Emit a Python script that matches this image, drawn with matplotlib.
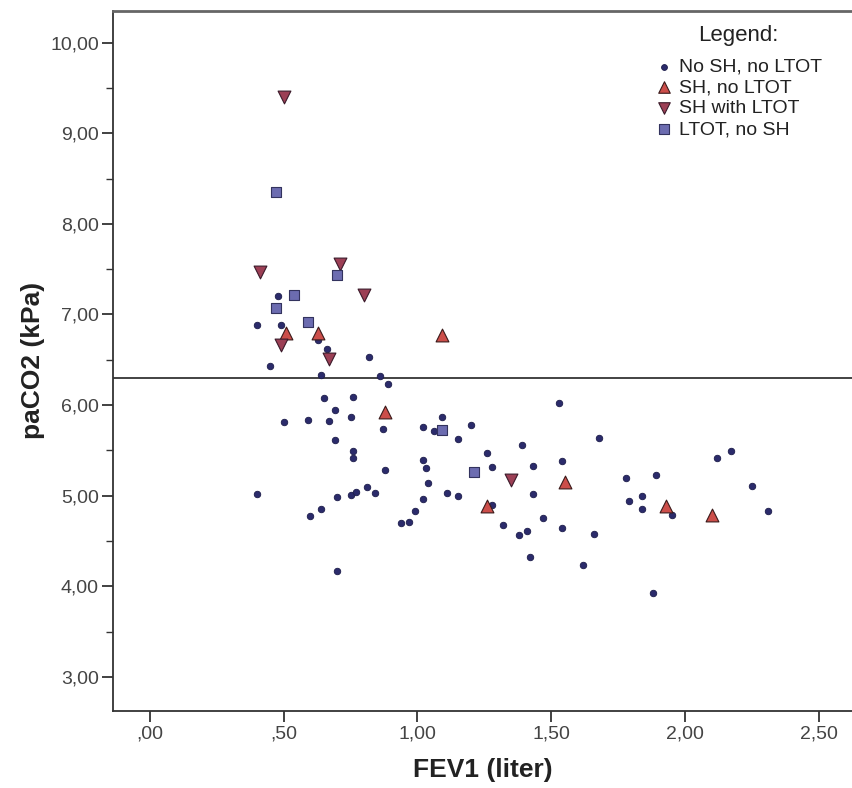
import matplotlib.pyplot as plt
from matplotlib.ticker import FuncFormatter, MultipleLocator

# No SH, no LTOT
fev_none = [0.48, 0.40, 0.49, 0.63, 0.66, 0.82, 0.45, 0.64, 0.86, 0.89,
            0.65, 0.76, 0.69, 0.50, 0.59, 0.67, 0.75, 0.87, 1.09, 1.02,
            1.06, 1.20, 1.15, 0.69, 0.76, 0.76, 1.26, 1.02, 1.03, 1.28,
            0.88, 1.04, 0.40, 0.70, 0.75, 0.77, 0.81, 0.84, 1.02, 1.11,
            1.15, 0.64, 0.60, 0.99, 0.94, 0.97, 0.70, 1.53, 1.68, 1.39,
            1.43, 1.54, 2.12, 2.17, 2.25, 2.31, 1.78, 1.89, 1.79, 1.84,
            1.84, 1.95, 1.28, 1.43, 1.32, 1.38, 1.41, 1.47, 1.54, 1.66,
            1.42, 1.62, 1.88]
pco2_none = [7.20, 6.88, 6.88, 6.72, 6.62, 6.53, 6.43, 6.33, 6.32, 6.23,
             6.08, 6.09, 5.95, 5.81, 5.84, 5.82, 5.87, 5.73, 5.87, 5.76,
             5.71, 5.78, 5.63, 5.61, 5.49, 5.41, 5.47, 5.39, 5.30, 5.32,
             5.28, 5.14, 5.02, 4.99, 5.01, 5.04, 5.10, 5.03, 4.96, 5.03,
             5.00, 4.85, 4.78, 4.83, 4.70, 4.71, 4.17, 6.02, 5.64, 5.56,
             5.33, 5.38, 5.42, 5.49, 5.11, 4.83, 5.19, 5.23, 4.94, 5.00,
             4.85, 4.79, 4.90, 5.02, 4.68, 4.57, 4.61, 4.75, 4.64, 4.58,
             4.32, 4.23, 3.93]

# SH, no LTOT
fev_sh = [0.51, 0.63, 1.09, 0.88, 1.26, 1.55, 1.93, 2.10]
pco2_sh = [6.79, 6.79, 6.77, 5.92, 4.89, 5.15, 4.88, 4.79]

# SH with LTOT
fev_shltot = [0.50, 0.41, 0.71, 0.80, 0.49, 0.67, 1.35]
pco2_shltot = [9.40, 7.47, 7.56, 7.22, 6.66, 6.51, 5.17]

# LTOT, no SH
fev_ltot = [0.47, 0.70, 0.54, 0.47, 0.59, 1.09, 1.21]
pco2_ltot = [8.35, 7.43, 7.21, 7.07, 6.92, 5.72, 5.26]

cutoff = 6.3


def comma_fmt(v, pos):
    s = "%.2f" % v
    s = s.replace(".", ",")
    if s.startswith("0,"):
        s = s[1:]
    return s


def main():
    plt.rcParams['font.family'] = ['Liberation Sans', 'DejaVu Sans']
    fig = plt.figure(figsize=(8.52, 7.88), dpi=100)
    ax = fig.add_axes([0.1323, 0.0981, 0.8677, 0.8879])

    ax.scatter(fev_none, pco2_none, s=22, marker='o', color='#2b2b6b',
               edgecolors='#1c1c4a', linewidths=0.6, label='No SH, no LTOT', zorder=3)
    ax.scatter(fev_sh, pco2_sh, s=85, marker='^', color='#cc4e4a',
               edgecolors='#3a1a1a', linewidths=0.8, label='SH, no LTOT', zorder=3)
    ax.scatter(fev_shltot, pco2_shltot, s=85, marker='v', color='#9c3f55',
               edgecolors='#3a1a2a', linewidths=0.8, label='SH with LTOT', zorder=3)
    ax.scatter(fev_ltot, pco2_ltot, s=60, marker='s', color='#6c6cb0',
               edgecolors='#33335e', linewidths=0.8, label='LTOT, no SH', zorder=3)

    ax.axhline(cutoff, color='#222222', linewidth=1.2, zorder=2)

    ax.set_xlim(-0.139, 2.624)
    ax.set_ylim(2.626, 10.349)
    ax.xaxis.set_major_locator(MultipleLocator(0.5))
    ax.yaxis.set_major_locator(MultipleLocator(1.0))
    ax.yaxis.set_minor_locator(MultipleLocator(0.5))
    ax.xaxis.set_major_formatter(FuncFormatter(comma_fmt))
    ax.yaxis.set_major_formatter(FuncFormatter(comma_fmt))
    ax.tick_params(axis='both', which='major', direction='out', length=8,
                   width=1.3, color='#333333', labelsize=14, labelcolor='#444444')
    ax.tick_params(axis='y', which='minor', direction='out', length=5,
                   width=1.0, color='#333333')
    ax.tick_params(axis='x', pad=3)
    ax.tick_params(axis='y', pad=2)

    for side in ['left', 'bottom']:
        ax.spines[side].set_color('#333333')
        ax.spines[side].set_linewidth(1.3)
    ax.spines['top'].set_color('#666666')
    ax.spines['top'].set_linewidth(2.0)
    ax.spines['right'].set_visible(False)

    ax.set_xlabel('FEV1 (liter)', fontsize=19, fontweight='bold', color='#222222', labelpad=11)
    ax.set_ylabel('paCO2 (kPa)', fontsize=19, fontweight='bold', color='#222222', labelpad=4)

    fig.text(738 / 852, 1 - 35 / 788, 'Legend:', fontsize=16, color='#222222',
             ha='center', va='center')
    leg = ax.legend(loc='upper left', bbox_to_anchor=(656 / 852, 1 - 58 / 788),
                    bbox_transform=fig.transFigure, frameon=False,
                    fontsize=14, handlelength=0.8, handletextpad=0.4,
                    labelspacing=0.17, borderpad=0, borderaxespad=0,
                    markerscale=0.9)
    for t in leg.get_texts():
        t.set_color('#222222')

    fig.savefig('out.png', dpi=100, facecolor='white')


if __name__ == '__main__':
    main()
